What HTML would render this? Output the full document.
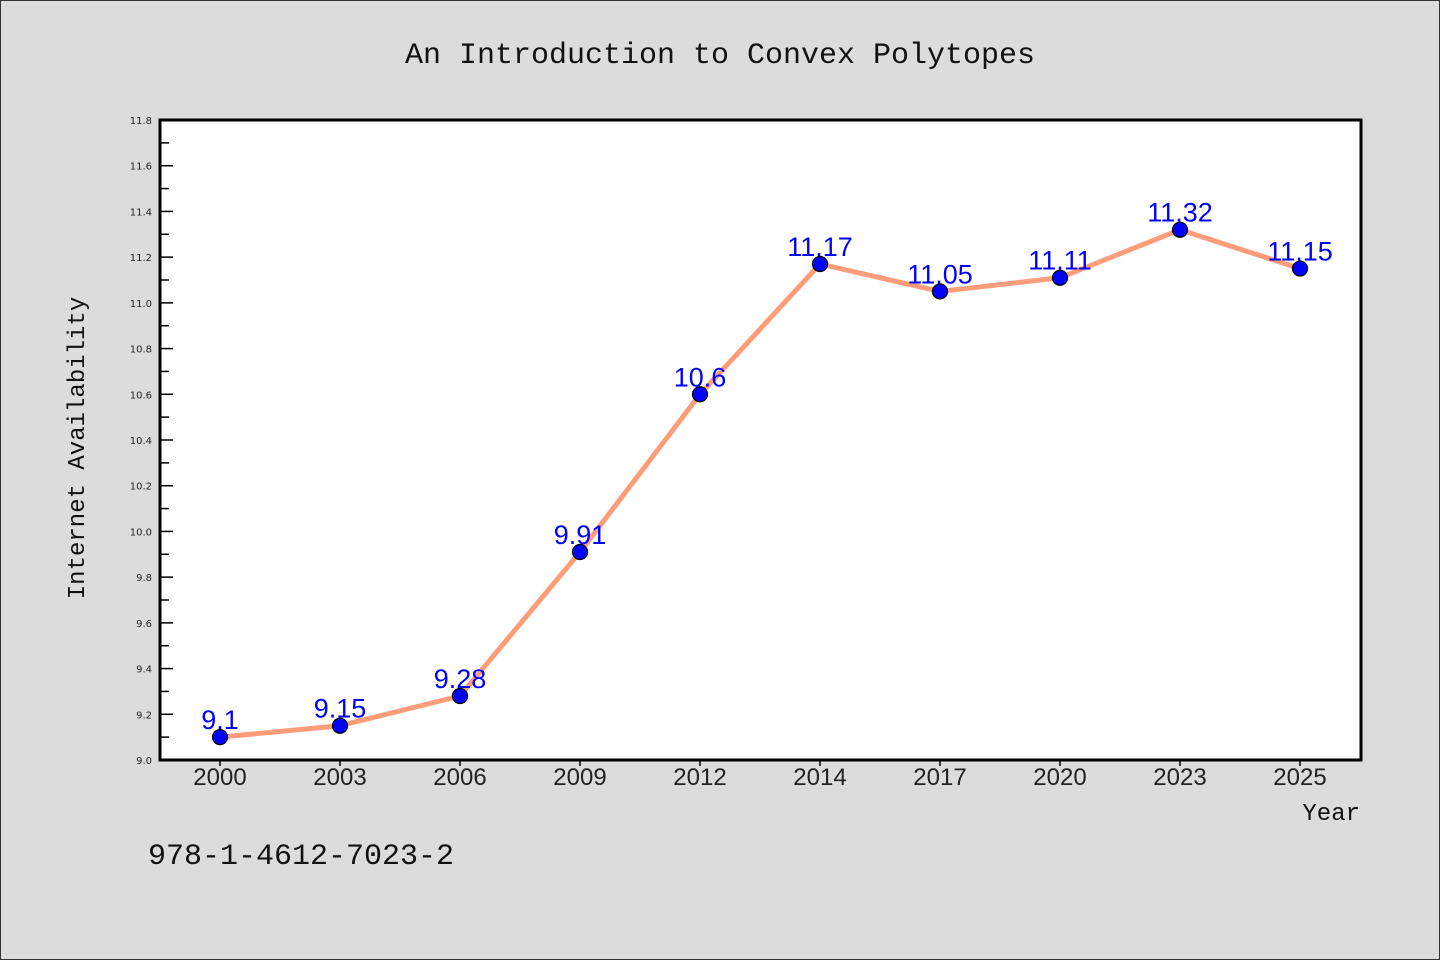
<!DOCTYPE html>
<html><head><meta charset="utf-8"><style>
html,body{margin:0;padding:0;background:#dcdcdc}
svg{display:block}
</style></head><body>
<svg width="1440" height="960" xmlns="http://www.w3.org/2000/svg">
<rect x="0.5" y="0.5" width="1439" height="959" fill="#dcdcdc" stroke="#333"/>
<text x="720" y="63" text-anchor="middle" font-family="'Liberation Mono',monospace" font-size="30" fill="#111">An Introduction to Convex Polytopes</text>
<rect x="160" y="120" width="1201" height="640" fill="#fff"/>
<g id="axes"></g>
<g id="series"></g>
<rect x="160" y="120" width="1201" height="640" fill="none" stroke="#000" stroke-width="3"/>
<text transform="translate(84,448) rotate(-90)" text-anchor="middle" font-family="'Liberation Mono',monospace" font-size="24" fill="#111">Internet Availability</text>
<text x="1360" y="820" text-anchor="end" font-family="'Liberation Mono',monospace" font-size="24" fill="#111">Year</text>
<text x="148" y="864" font-family="'Liberation Mono',monospace" font-size="30" fill="#111">978-1-4612-7023-2</text>
</svg>
<script>
const categories=["2000","2003","2006","2009","2012","2014","2017","2020","2023","2025"];
const values=[9.1,9.15,9.28,9.91,10.6,11.17,11.05,11.11,11.32,11.15];
const labels=["9.1","9.15","9.28","9.91","10.6","11.17","11.05","11.11","11.32","11.15"];
const yTicks=["9.0","9.2","9.4","9.6","9.8","10.0","10.2","10.4","10.6","10.8","11.0","11.2","11.4","11.6","11.8"];
const NS="http://www.w3.org/2000/svg";
const yMin=9.0,yMax=11.8,plotTop=120,plotBot=760,plotLeft=160;
const yScale=v=>plotBot-(v-yMin)/(yMax-yMin)*(plotBot-plotTop);
const xScale=i=>220+i*120;
function mk(t,a,p){const e=document.createElementNS(NS,t);for(const k in a)e.setAttribute(k,a[k]);p.appendChild(e);return e;}
const ax=document.getElementById('axes'),se=document.getElementById('series');
yTicks.forEach((t,i)=>{
 const v=parseFloat(t),yy=yScale(v);
 const tk=mk('line',{x1:plotLeft,x2:plotLeft+13,y1:yy,y2:yy,stroke:'#000','stroke-width':1.5},ax);
 
 
 const tx=mk('text',{x:152,y:yy+4,'text-anchor':'end','font-family':'DejaVu Sans,sans-serif','font-size':10,fill:'#222'},ax);
 tx.textContent=t;
 
 
 if(i<yTicks.length-1){const m=yScale(v+0.1);
  const mn=mk('line',{x1:plotLeft,x2:plotLeft+9,y1:m,y2:m,stroke:'#000','stroke-width':1.5},ax);
  
  }
});
categories.forEach((c,i)=>{
 const tk=mk('line',{x1:xScale(i),x2:xScale(i),y1:plotBot,y2:plotBot+6,stroke:'#000','stroke-width':1.5},ax);
 
 
 const tx=mk('text',{x:xScale(i),y:785,'text-anchor':'middle','font-family':'Liberation Sans,sans-serif','font-size':24,fill:'#222'},ax);
 tx.textContent=c;
 
 
});
const pl=mk('polyline',{points:values.map((v,i)=>xScale(i)+','+yScale(v)).join(' '),fill:'none',stroke:'#ff9d7a','stroke-width':5,'stroke-linejoin':'round'},se);


values.forEach((v,i)=>{
 const c=mk('circle',{cx:xScale(i),cy:yScale(v),r:7.5,fill:'#0000ff',stroke:'#000','stroke-width':1.2},se);
 
 
 const t=mk('text',{x:xScale(i),y:yScale(v)-8,'text-anchor':'middle','font-family':'Liberation Sans,sans-serif','font-size':27,fill:'#0000ff'},se);
 t.textContent=labels[i];
 
 
});
</script>
</body></html>
